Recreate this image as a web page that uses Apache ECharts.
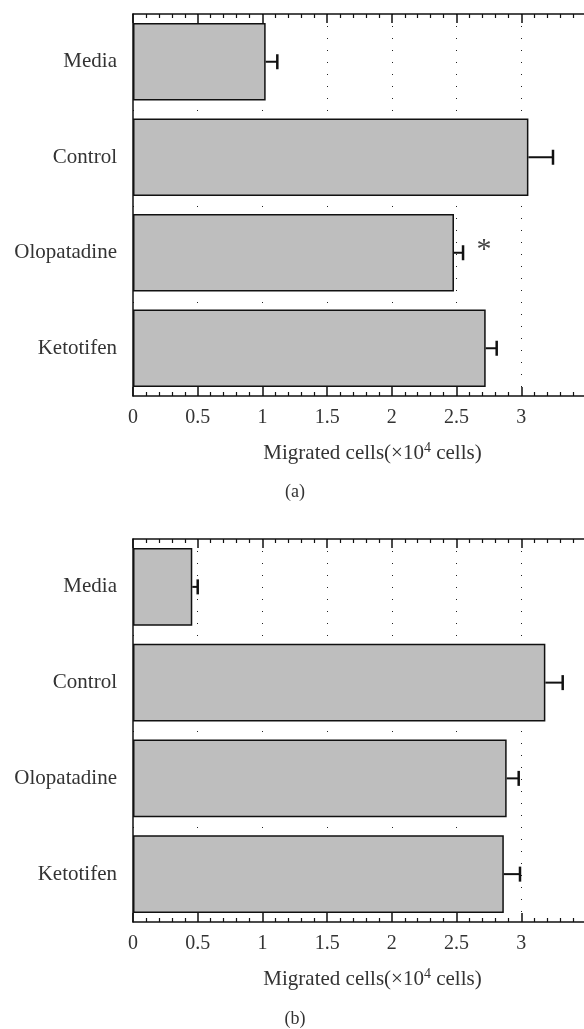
<!DOCTYPE html>
<html>
<head>
<meta charset="utf-8">
<script src="https://cdn.jsdelivr.net/npm/echarts@6/dist/echarts.min.js"></script>
<style>
  html, body { margin: 0; padding: 0; background: #fff; }
  #main { width: 584px; height: 1029px; }
</style>
</head>
<body>
<div id="main"></div>
<script>
// groups (top to bottom)
var categories = ['Media', 'Control', 'Olopatadine', 'Ketotifen'];

// panel (a): means and error (x10^4 cells)
var meansA = [1.025, 3.055, 2.48, 2.725];
var errA = [0.09, 0.19, 0.07, 0.085];
var marksA = ['', '', '*', ''];

// panel (b)
var meansB = [0.458, 3.186, 2.887, 2.865];
var errB = [0.042, 0.134, 0.093, 0.125];
var marksB = ['', '', '', ''];

var tickLabels = ['0', '0.5', '1', '1.5', '2', '2.5', '3'];

var serif = '"Liberation Serif", "DejaVu Serif", serif';

// error bar rows: [low, high, category index, mark]
function errRows(m, e, marks) {
	var rows = [];
	for (var i = 0; i < m.length; i++) {
		rows.push([m[i], m[i] + e[i], i, marks[i]]);
	}
	return rows;
}

function renderErr(params, api) {
	var lo = api.coord([api.value(0), api.value(2)]);
	var hi = api.coord([api.value(1), api.value(2)]);
	var cap = 7.5;
	var children = [
		{ type: 'line', shape: { x1: lo[0], y1: lo[1], x2: hi[0], y2: hi[1] },
		  style: { stroke: '#111', lineWidth: 2 } },
		{ type: 'line', shape: { x1: hi[0], y1: hi[1] - cap, x2: hi[0], y2: hi[1] + cap },
		  style: { stroke: '#111', lineWidth: 2.5 } }
	];
	var mark = api.value(3);
	if (mark && mark !== '-') {
		children.push({ type: 'text', x: hi[0] + 21, y: hi[1] - 3,
			style: { text: mark, fill: '#444', font: '30px ' + serif,
			         align: 'center', verticalAlign: 'middle' } });
	}
	return { type: 'group', children: children };
}

function bottomAxis(gi) {
	return {
		type: 'value', gridIndex: gi, position: 'bottom',
		min: 0, max: 3.5, interval: 0.5,
		name: 'Migrated cells(×10{sup|4} cells)',
		nameLocation: 'middle', nameGap: 45,
		nameTextStyle: {
			fontFamily: serif, fontSize: 21, color: '#333',
			padding: [0, 0, 0, 26],
			rich: { sup: { fontSize: 14, fontFamily: serif, color: '#333', padding: [0, 0, 10, 0] } }
		},
		axisLine: { show: true, lineStyle: { color: '#111', width: 1.5 } },
		axisTick: { show: true, inside: true, length: 9, lineStyle: { color: '#111', width: 1.5 } },
		minorTick: { show: true, splitNumber: 5, length: 4, lineStyle: { color: '#111', width: 1.2 } },
		axisLabel: {
			fontFamily: serif, fontSize: 20, color: '#333', margin: 12,
			formatter: function (v) {
				var s = String(v);
				return tickLabels.indexOf(s) >= 0 ? s : '';
			}
		},
		splitLine: { show: true, lineStyle: { color: '#222', width: 1, type: [1, 11] } }
	};
}

function topAxis(gi) {
	return {
		type: 'value', gridIndex: gi, position: 'top',
		min: 0, max: 3.5, interval: 0.5,
		axisLine: { show: true, lineStyle: { color: '#111', width: 1.5 } },
		axisTick: { show: true, inside: true, length: 9, lineStyle: { color: '#111', width: 1.5 } },
		minorTick: { show: true, splitNumber: 5, length: 4, lineStyle: { color: '#111', width: 1.2 } },
		axisLabel: { show: false },
		splitLine: { show: false }
	};
}

function catAxis(gi) {
	return {
		type: 'category', gridIndex: gi, data: categories, inverse: true,
		axisLine: { show: true, lineStyle: { color: '#111', width: 1.5 } },
		axisTick: { show: false },
		axisLabel: { fontFamily: serif, fontSize: 21, color: '#333', margin: 16 }
	};
}

function barSeries(gi, data) {
	return {
		type: 'bar', xAxisIndex: gi * 2, yAxisIndex: gi, data: data,
		barCategoryGap: '19%', silent: true,
		itemStyle: { color: '#bebebe', borderColor: '#111', borderWidth: 1.5 }
	};
}

function errSeries(gi, rows) {
	return {
		type: 'custom', xAxisIndex: gi * 2, yAxisIndex: gi, data: rows,
		renderItem: renderErr, silent: true, z: 5,
		encode: { x: [0, 1], y: 2 }
	};
}

var chart = echarts.init(document.getElementById('main'), null, { renderer: 'canvas' });
chart.setOption({
	animation: false,
	backgroundColor: '#fff',
	grid: [
		{ left: 133, top: 14, width: 453, height: 382, outerBoundsMode: 'none' },
		{ left: 133, top: 539, width: 453, height: 383, outerBoundsMode: 'none' }
	],
	xAxis: [bottomAxis(0), topAxis(0), bottomAxis(1), topAxis(1)],
	yAxis: [catAxis(0), catAxis(1)],
	series: [
		barSeries(0, meansA), errSeries(0, errRows(meansA, errA, marksA)),
		barSeries(1, meansB), errSeries(1, errRows(meansB, errB, marksB))
	],
	graphic: [
		{ type: 'text', x: 295, y: 492, style: { text: '(a)', font: '18px ' + serif, fill: '#333', align: 'center', verticalAlign: 'middle' } },
		{ type: 'text', x: 295, y: 1019, style: { text: '(b)', font: '18px ' + serif, fill: '#333', align: 'center', verticalAlign: 'middle' } }
	]
});
</script>
</body>
</html>
